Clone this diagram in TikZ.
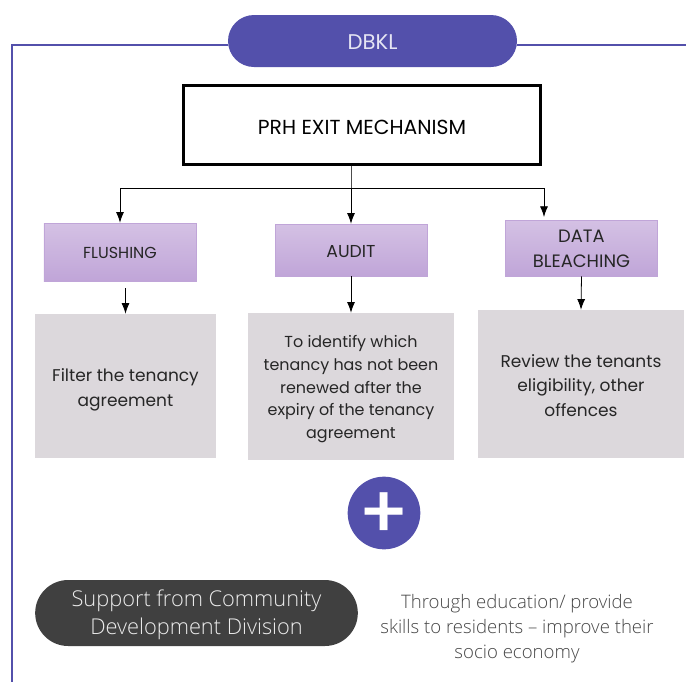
\documentclass[tikz,border=0pt]{standalone}
\usepackage{fontspec}
\setmainfont{Poppins}
\newfontfamily\lightfont{Open Sans Light}
\newfontfamily\plusfont{Poppins Medium}
\usetikzlibrary{arrows.meta}
\usetikzlibrary{calc,shapes}
\definecolor{indigoDBKL}{HTML}{5350AB}
\definecolor{greyBox}{HTML}{DCD8DC}
\definecolor{darkPill}{HTML}{404040}
\definecolor{lilacTop}{HTML}{D4C1E4}
\definecolor{lilacBot}{HTML}{C0A5D8}
\newcommand{\decale}[2]{\raisebox{\dimexpr-#1bp-.25em\relax}[0pt][0pt]{\begin{tabular}{@{}c@{}}#2\end{tabular}}}
\tikzset{
	pill/.style={rounded rectangle,inner sep=0pt,align=center},
	headbox/.style={draw=lilacBot,top color=lilacTop,bottom color=lilacBot,minimum width=114bp,inner sep=0pt,align=center,text=black!85},
	infobox/.style={fill=greyBox,inner sep=0pt,align=center,text=black!85},
	fleche/.style={-{Latex[length=8bp,width=6bp]},line width=0.6pt,black}
}
\begin{document}
\begin{tikzpicture}[x=0.75bp,y=-0.75bp]
				\useasboundingbox (0,0) rectangle (686,682);
				% Cadre
				\node (dbkl) [pill,fill=indigoDBKL,minimum width=216.75bp,minimum height=39bp,text=white!85!indigoDBKL,font=\fontsize{16}{18}\selectfont] at (372.5,41) {\decale{3}{DBKL}};
				\coordinate (cornerTL) at (12,45);
				\coordinate (cornerBL) at (12,682);
				\coordinate (edgeR) at (686,45);
				\draw [indigoDBKL,line width=0.9pt] (dbkl.west |- cornerTL) -- (cornerTL) -- (cornerBL);
				\draw [indigoDBKL,line width=0.9pt] (dbkl.east |- edgeR) -- (edgeR);
				% Boites
				\node (exit) [draw=black,line width=2pt,minimum width=268bp,minimum height=59bp,inner sep=0pt,font=\fontsize{15.3}{18}\selectfont] at (362,125) {\decale{3}{PRH EXIT MECHANISM}};
				\node (flushing) [headbox,minimum height=43.5bp,font=\fontsize{12}{18}\selectfont] at (120,252) {\decale{1.5}{FLUSHING}};
				\node (audit) [headbox,minimum height=39bp,font=\fontsize{13}{18}\selectfont] at (351,250) {\decale{1.75}{AUDIT}};
				\node (bleaching) [headbox,minimum height=42bp,font=\fontsize{13.5}{18.75}\selectfont] at (581.5,248) {\decale{1.5}{DATA\\BLEACHING}};
				\node (filter) [infobox,minimum width=135.75bp,minimum height=108bp,font=\fontsize{12.8}{18.75}\selectfont] at (125.5,386) {\decale{2.25}{Filter the tenancy\\agreement}};
				\node (identify) [infobox,minimum width=154.5bp,minimum height=110.25bp,font=\fontsize{12}{17}\selectfont] at (351,386.5) {\decale{1.5}{To identify which\\tenancy has not been\\renewed after the\\expiry of the tenancy\\agreement}};
				\node (review) [infobox,minimum width=154.5bp,minimum height=111bp,font=\fontsize{12.8}{18.75}\selectfont] at (581,384) {\decale{2}{Review the tenants\\eligibility, other\\offences}};
				% Fleches
				\coordinate (branch) at (audit.north |- 0,188);
				\coordinate (tipData) at (544,217);
				\coordinate (startFilter) at (filter.north |- 0,288);
				\draw [line width=0.5pt,black!70] (exit.south -| branch) -- (branch);
				\draw [fleche] (branch) -| (flushing.north);
				\draw [fleche] (branch) -- (audit.north);
				\draw [fleche] (branch) -| (tipData);
				\draw [fleche] (startFilter) -- (filter.north);
				\draw [fleche] (audit.south) -- (identify.north);
				\draw [fleche] (bleaching.south) -- (review.north);
				% Bas
				\node (plus) [circle,fill=indigoDBKL,minimum size=54.5bp,inner sep=0pt,text=white,font=\plusfont\fontsize{56}{56}\selectfont] at (384,513) {\decale{0}{+}};
				\node (support) [pill,fill=darkPill,minimum width=242bp,minimum height=49.5bp,text=white!90!darkPill,font=\lightfont\fontsize{16.4}{21.75}\selectfont] at (196.5,613) {\decale{1.5}{Support from Community\\Development Division}};
				\node (through) [align=center,inner sep=0pt,text=black!72,font=\lightfont\fontsize{14}{19}\selectfont] at (517,627) {\decale{1}{Through education/ provide\\skills to residents – improve their\\socio economy}};
\end{tikzpicture}
\end{document}
